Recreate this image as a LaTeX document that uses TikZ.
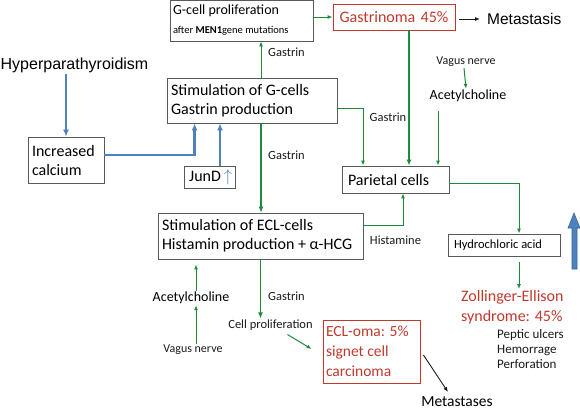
\documentclass[tikz,border=0pt]{standalone}
\usepackage{fontspec}
\setmainfont{Carlito}
\newfontfamily\arialfont{Liberation Sans}
\usepackage{xcolor}
\usepackage{tikz}
\usetikzlibrary{arrows.meta,positioning,calc}
\definecolor{ink}{HTML}{1A1A1A}
\definecolor{frame}{HTML}{595959}
\definecolor{leaf}{HTML}{1E8B3C}
\definecolor{steel}{HTML}{4F81BD}
\definecolor{steeldk}{HTML}{3A659A}
\definecolor{brick}{HTML}{C0392B}
\tikzset{
  box/.style={draw=frame,line width=0.8pt,inner xsep=5pt,inner ysep=0pt,
              align=flush left,font=\fontsize{16}{19}\selectfont},
  lbl/.style={inner sep=1pt,font=\fontsize{12.5}{14}\selectfont,ink},
  garrow/.style={-{Latex[length=5pt,width=4pt]},line width=1pt,leaf},
  gthick/.style={-{Latex[length=6pt,width=5pt]},line width=1.3pt,leaf},
  barrow/.style={-{Latex[length=7pt,width=6pt]},line width=2.4pt,steel},
  karrow/.style={-{Latex[length=5pt,width=4pt]},line width=0.9pt,ink},
}

\begin{document}
\begin{tikzpicture}[x=1pt,y=-1pt]
  \useasboundingbox (0,0) rectangle (580,410);

  % boxes (centres in px of the 580x410 sheet)
  \node[box,text width=137pt,minimum height=41pt,inner xsep=3pt] (prolif)
    at (241.5,20.5)
    {\fontsize{14}{18}\selectfont G-cell proliferation\\
     \fontsize{10.5}{12}\selectfont after \textbf{MEN1}gene mutations};
  \node[box,text width=112pt,minimum height=26pt,align=center,brick]
    (gastrinoma) at (394,17) {Gastrinoma 45\%};
  \node[box,text width=162pt,minimum height=45pt,inner xsep=4pt] (gcells)
    at (252,100.5) {Stimulation of G-cells\\Gastrin production};
  \node[box,text width=68pt,minimum height=46pt,inner xsep=4pt] (calcium)
    at (66,160) {Increased\\calcium};
  \node[box,text width=47pt,minimum height=22pt,inner xsep=2pt] (jund)
    at (210,177) {\,JunD\,\textcolor{steel}{$\uparrow$}};
  \node[box,text width=95pt,minimum height=27pt,inner xsep=6pt] (parietal)
    at (395.5,179.5) {Parietal cells};
  \node[box,text width=197pt,minimum height=46pt,inner xsep=4pt] (ecl)
    at (260.5,236) {Stimulation of ECL-cells\\Histamin production + α-HCG};
  \node[box,text width=100pt,minimum height=22pt,inner xsep=6pt,
        font=\fontsize{12.5}{14}\selectfont] (hcl) at (504,245)
    {Hydrochloric acid};
  \node[box,text width=91pt,minimum height=63pt,inner xsep=3pt,brick,
        font=\fontsize{15.5}{20}\selectfont] (ecloma) at (371.5,351.5)
    {ECL-oma: 5\%\\signet cell\\carcinoma};

  % free texts
  \node[inner sep=1pt,font=\arialfont\fontsize{16}{18}\selectfont] (hyper)
    at (74.5,65) {Hyperparathyroidism};
  \node[inner sep=1pt,anchor=west,font=\arialfont\fontsize{15.5}{18}\selectfont]
    (metastasis) at (486,19) {Metastasis};
  \node[lbl,font=\fontsize{12}{14}\selectfont] (vagusR) at (466,62)
    {Vagus nerve};
  \node[inner sep=1pt,font=\fontsize{14}{17}\selectfont] (achR) at (468,96)
    {Acetylcholine};
  \node[inner sep=1pt,font=\fontsize{14}{17}\selectfont] (achL) at (191,298)
    {Acetylcholine};
  \node[lbl,font=\fontsize{12}{14}\selectfont] (vagusL) at (193,350)
    {Vagus nerve};
  \node[lbl] (cellprolif) at (270.5,325) {Cell proliferation};
  \node[inner sep=1pt,align=flush left,brick,
        font=\fontsize{16}{20}\selectfont,anchor=north west] (ze) at (460,289)
    {Zollinger-Ellison\\syndrome: 45\%};
  \node[lbl,align=flush left,anchor=north west,
        font=\fontsize{13}{15}\selectfont] (symptoms) at (496,328)
    {Peptic ulcers\\Hemorrage\\Perforation};
  \node[inner sep=1pt,anchor=base,font=\fontsize{15.5}{19}\selectfont]
    (metastases) at (457,406) {Metastases};

  % edge labels
  \node[lbl,anchor=west] (gastrinA) at (267,52) {Gastrin};
  \node[lbl,anchor=west] (gastrinB) at (267,155) {Gastrin};
  \node[lbl] (gastrinC) at (388,117) {Gastrin};
  \node[lbl,anchor=west] (gastrinD) at (267,296) {Gastrin};
  \node[lbl] (histamine) at (395.5,240) {Histamine};

  % blue: calcium and JunD
  \draw[barrow] (hyper.south -| calcium.north) -- (calcium.north);
  \draw[barrow] ([yshift=5pt]calcium.east)
    -| ([xshift=28pt]gcells.south west);
  \draw[barrow] ([xshift=10pt]jund.north)
    -- ([xshift=10pt]jund.north |- gcells.south);

  % green: gastrin pathways
  \draw[garrow] ([xshift=9pt]gcells.north)
    -- ([xshift=9pt]gcells.north |- prolif.south);
  \draw[garrow] (prolif.east |- gastrinoma.west) -- (gastrinoma.west);
  \draw[gthick] ([xshift=9pt]gcells.south)
    -- ([xshift=9pt]gcells.south |- ecl.north);
  \draw[gthick] ([xshift=15pt]gastrinoma.south)
    -- ([xshift=15pt]gastrinoma.south |- parietal.north);
  \draw[garrow] ([yshift=-7.5pt]gcells.east)
    -| ([xshift=-32.5pt]parietal.north);
  \draw[garrow] ([xshift=-2pt]vagusR.south) -- ([xshift=-2pt]achR.north);
  \draw[garrow] ([xshift=-30pt,yshift=-8pt]achR.south)
    -- ([xshift=42.5pt]parietal.north);
  \draw[garrow] ([yshift=11pt]ecl.east) -| ([xshift=7.5pt]parietal.south);
  \draw[garrow] ([yshift=-3.5pt]parietal.east) -| ([xshift=15pt]hcl.north);
  \draw[garrow] ([xshift=15pt,yshift=-6pt]hcl.south)
    -- ([xshift=15pt]hcl.south |- ze.north);

  % green: ECL side
  \draw[gthick] (ecl.south) -- (ecl.south |- cellprolif.north);
  \draw[garrow] ([xshift=5pt]achL.north)
    -- ([xshift=5pt,yshift=-5pt]achL.north |- ecl.south);
  \draw[garrow] ([xshift=3pt]vagusL.north)
    -- ([xshift=3pt]vagusL.north |- achL.south);
  \draw[garrow] ([xshift=17pt,yshift=-3pt]cellprolif.south)
    -- ([xshift=-11pt,yshift=2.5pt]ecloma.west);

  % black: metastases
  \draw[karrow,shorten <=4pt,shorten >=6pt] (gastrinoma.east |- metastasis.west)
    -- (metastasis.west);
  \draw[karrow] ([xshift=3pt,yshift=-3.5pt]ecloma.east)
    -- ([xshift=-9pt,yshift=14pt]metastases.base);

  % fat blue arrow (acid rises)
  \filldraw[fill=steel,draw=steeldk,line width=0.6pt]
    (572,269) -- (572,228) -- (568,228) -- (574,213) -- (580,228)
    -- (577,228) -- (577,269) -- cycle;
\end{tikzpicture}
\end{document}
